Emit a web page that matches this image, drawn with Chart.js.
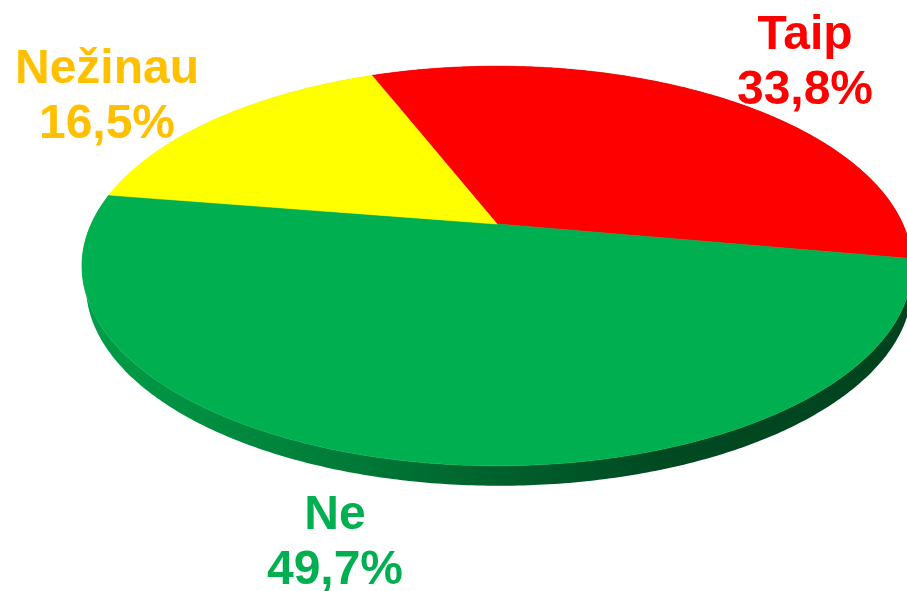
<!DOCTYPE html>
<html lang="lt">
<head>
<meta charset="utf-8">
<title>Taip, Ne, Nežinau</title>
<style>
html,body{margin:0;padding:0;background:#fff;overflow:hidden}
#wrap{position:relative;width:907px;height:591px}
canvas{display:block}
</style>
<script src="https://cdn.jsdelivr.net/npm/chart.js@4"></script>
</head>
<body>
<div id="wrap"><canvas id="chart" width="907" height="591"></canvas></div>
<script>
const categories = ['Taip', 'Ne', 'Nežinau'];
const percentages = [33.8, 49.7, 16.5];
const sliceColors = ['#FF0000', '#00B050', '#FFFF00'];
const labelColors = ['#FF0000', '#00B050', '#FFC000'];

// Presentation only: tilted-disc projection, rim shading and label anchors.
const startRotation = 338.4;
const tilt = {cx: 497, cy: 224, a: 405.8, b: 191, k: -0.21, depth: 20, rimShiftX: 2, rimScaleX: 0.995};
const rimShade = [[0, 0.9], [0.32, 0.7], [0.5, 0.55], [0.7, 0.42], [1, 0.38]];
const labelFont = 'bold 48px "Liberation Sans", Arial, sans-serif';
const labelAnchors = [
  {x: 805, y1: 49, y2: 104},
  {x: 335, y1: 529, y2: 584},
  {x: 107, y1: 83, y2: 138}
];

function project(angle) {
  const u = Math.cos(angle), v = Math.sin(angle), w = 1 + tilt.k * v;
  return {x: tilt.cx + tilt.a * u / w, y: tilt.cy + tilt.b * v / w};
}
function rimPoints(start, end) {
  const n = Math.max(2, Math.ceil((end - start) / 0.01));
  const pts = [];
  for (let i = 0; i <= n; i++) pts.push(project(start + (end - start) * i / n));
  return pts;
}

class TiltedArc extends Chart.ArcElement {
  draw(ctx) {
    const {startAngle, endAngle} = this.getProps(['startAngle', 'endAngle']);
    const pts = rimPoints(startAngle, endAngle);
    ctx.save();
    ctx.beginPath();
    ctx.moveTo(tilt.cx, tilt.cy);
    pts.forEach(p => ctx.lineTo(p.x, p.y));
    ctx.closePath();
    ctx.fillStyle = this.options.backgroundColor;
    ctx.strokeStyle = this.options.backgroundColor;
    ctx.lineWidth = 0.6;
    ctx.fill();
    ctx.stroke();
    ctx.restore();
  }
}
TiltedArc.id = 'tiltedArc';
TiltedArc.defaults = Object.assign({}, Chart.ArcElement.defaults);

class TiltedPie extends Chart.PieController {}
TiltedPie.id = 'tiltedPie';
TiltedPie.defaults = Object.assign({}, Chart.PieController.defaults, {dataElementType: 'tiltedArc'});
TiltedPie.overrides = Chart.PieController.overrides;
Chart.register(TiltedArc, TiltedPie);

const rimPlugin = {
  id: 'rim',
  beforeDatasetsDraw(chart) {
    const ctx = chart.ctx;
    chart.getDatasetMeta(0).data.forEach((arc, i) => {
      const hex = sliceColors[i];
      const rgb = [1, 3, 5].map(j => parseInt(hex.slice(j, j + 2), 16));
      const grad = ctx.createLinearGradient(82, 0, 907, 0);
      rimShade.forEach(([stop, f]) => {
        grad.addColorStop(stop, `rgb(${rgb.map(c => Math.round(c * f)).join(',')})`);
      });
      const pts = rimPoints(arc.startAngle, arc.endAngle);
      ctx.save();
      ctx.beginPath();
      pts.forEach((p, j) => j ? ctx.lineTo(p.x, p.y) : ctx.moveTo(p.x, p.y));
      pts.slice().reverse().forEach(p => {
        const x = tilt.cx + tilt.rimShiftX + (p.x - tilt.cx) * tilt.rimScaleX;
        ctx.lineTo(x, p.y + tilt.depth);
      });
      ctx.closePath();
      ctx.fillStyle = grad;
      ctx.fill();
      ctx.restore();
    });
  }
};

const labelPlugin = {
  id: 'sliceLabels',
  afterDatasetsDraw(chart) {
    const ctx = chart.ctx;
    ctx.save();
    ctx.font = labelFont;
    ctx.textAlign = 'center';
    ctx.textBaseline = 'alphabetic';
    categories.forEach((name, i) => {
      const pos = labelAnchors[i];
      ctx.fillStyle = labelColors[i];
      ctx.fillText(name, pos.x, pos.y1);
      ctx.fillText(percentages[i].toFixed(1).replace('.', ',') + '%', pos.x, pos.y2);
    });
    ctx.restore();
  }
};

new Chart(document.getElementById('chart'), {
  type: 'tiltedPie',
  data: {
    labels: categories,
    datasets: [{data: percentages, backgroundColor: sliceColors, borderWidth: 0}]
  },
  options: {
    responsive: false,
    animation: false,
    rotation: startRotation,
    layout: {padding: 0},
    plugins: {legend: {display: false}, tooltip: {enabled: false}, title: {display: false}}
  },
  plugins: [rimPlugin, labelPlugin]
});
</script>
</body>
</html>
